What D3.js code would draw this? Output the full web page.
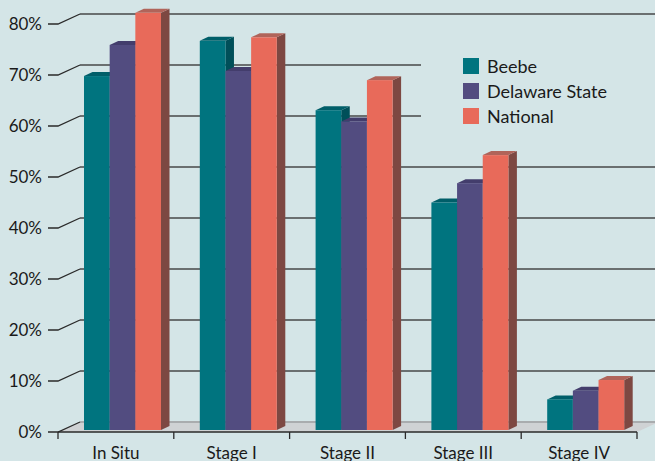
<!DOCTYPE html>
<html><head><meta charset="utf-8">
<script src="https://cdn.jsdelivr.net/npm/d3@7/dist/d3.min.js"></script>
<style>
html,body{margin:0;padding:0;background:#d4e5e7;}
svg{display:block;}
text{font-family:Lato,"Noto Sans",sans-serif;fill:#1a1a1a;}
</style></head>
<body>
<svg id="chart" width="655" height="461"></svg>
<script>
const categories = ["In Situ","Stage I","Stage II","Stage III","Stage IV"];
const seriesNames = ["Beebe","Delaware State","National"];
const beebe = [69.4, 76.3, 62.7, 44.6, 6.0];
const delaware = [75.5, 70.4, 60.5, 48.4, 7.7];
const national = [81.8, 77.0, 68.6, 53.9, 9.8];
const yTicks = [0,10,20,30,40,50,60,70,80];
const tickLabels = ["0%","10%","20%","30%","40%","50%","60%","70%","80%"];

const colors = {front:["#00747f","#524c80","#e86a5a"], side:["#004f59","#3d3866","#7d4842"], top:["#005e69","#433d6c","#b0645a"]};
const W=655,H=461;
const svg=d3.select("#chart");
svg.append("rect").attr("width",W).attr("height",H).attr("fill","#d4e5e7");

const DX=22, DY=-10; // wall depth
const yFront=d3.scaleLinear().domain([0,80]).range([432,24]);
const yBack=d3.scaleLinear().domain([0,80]).range([432+DY,24+DY]);
const yBar=d3.scaleLinear().domain([0,80]).range([430,22]);
const xFront=d3.scaleBand().domain(categories).range([58,637]).paddingInner(0).paddingOuter(0);
const xBar=d3.scaleBand().domain(categories).range([58,637]);
const xSeries=d3.scaleBand().domain(seriesNames).range([26,26+77]);

// floor
const f0=xFront.range()[0], f1=xFront.range()[1];
svg.append("polygon")
  .attr("points",[[f0,432],[f1,432],[f1+DX,432+DY],[f0+DX,432+DY]].map(p=>p.join(",")).join(" "))
  .attr("fill","#cfd2d4");

// back wall gridlines
svg.append("g").selectAll("line").data(yTicks).join("line")
  .attr("x1",f0+DX).attr("x2",W)
  .attr("y1",d=>yBack(d)).attr("y2",d=>yBack(d))
  .attr("stroke",d=>d===0?"#a9acae":"#6a6f70").attr("stroke-width",2);

// legend background (occludes gridlines)
svg.append("rect").attr("x",421).attr("y",40).attr("width",W-421).attr("height",100).attr("fill","#d4e5e7");

// y axis ticks with diagonal connectors
const yg=svg.append("g");
yg.selectAll("path").data(yTicks).join("path")
  .attr("d",d=>`M48,${yFront(d)}H${f0}L${f0+DX},${yBack(d)}`)
  .attr("fill","none").attr("stroke","#2a2a2a").attr("stroke-width",1.3);
yg.selectAll("text").data(yTicks).join("text")
  .attr("x",42).attr("y",d=>yFront(d)).attr("dy","0.36em")
  .attr("text-anchor","end").attr("font-size",17)
  .text((d,i)=>tickLabels[i]);

// x axis front edge and ticks
svg.append("line").attr("x1",f0).attr("x2",f1).attr("y1",432).attr("y2",432).attr("stroke","#2a2a2a").attr("stroke-width",1.3);
const bounds=categories.map(c=>xFront(c)).concat([f1]);
svg.append("g").selectAll("line").data(bounds).join("line")
  .attr("x1",d=>d).attr("x2",d=>d).attr("y1",432).attr("y2",439)
  .attr("stroke","#2a2a2a").attr("stroke-width",1.3);
svg.append("g").selectAll("text").data(categories).join("text")
  .attr("x",d=>xFront(d)+xFront.bandwidth()/2).attr("y",459)
  .attr("text-anchor","middle").attr("font-size",17).text(d=>d);

// bars
const series=[beebe,delaware,national];
const bdx=8.5, bdy=-4;
const bw=xSeries.bandwidth();
const barsG=svg.append("g");
categories.forEach((c,ci)=>{
  series.forEach((vals,si)=>{
    const x=xBar(c)+xSeries(seriesNames[si]);
    const yt=yBar(vals[ci]), yb=yBar(0);
    const g=barsG.append("g");
    g.append("polygon").attr("points",[[x+bw,yt],[x+bw+bdx,yt+bdy],[x+bw+bdx,yb+bdy],[x+bw,yb]].map(p=>p.join(",")).join(" ")).attr("fill",colors.side[si]);
    g.append("polygon").attr("points",[[x,yt],[x+bdx,yt+bdy],[x+bw+bdx,yt+bdy],[x+bw,yt]].map(p=>p.join(",")).join(" ")).attr("fill",colors.top[si]);
    g.append("rect").attr("x",x).attr("y",yt).attr("width",bw).attr("height",yb-yt).attr("fill",colors.front[si]);
  });
});

// legend
const lg=svg.append("g");
seriesNames.forEach((n,i)=>{
  lg.append("rect").attr("x",463).attr("y",58+i*25).attr("width",16).attr("height",16).attr("fill",colors.front[i]);
  lg.append("text").attr("x",487).attr("y",73+i*25).attr("font-size",18).text(n);
});
</script>
</body></html>
